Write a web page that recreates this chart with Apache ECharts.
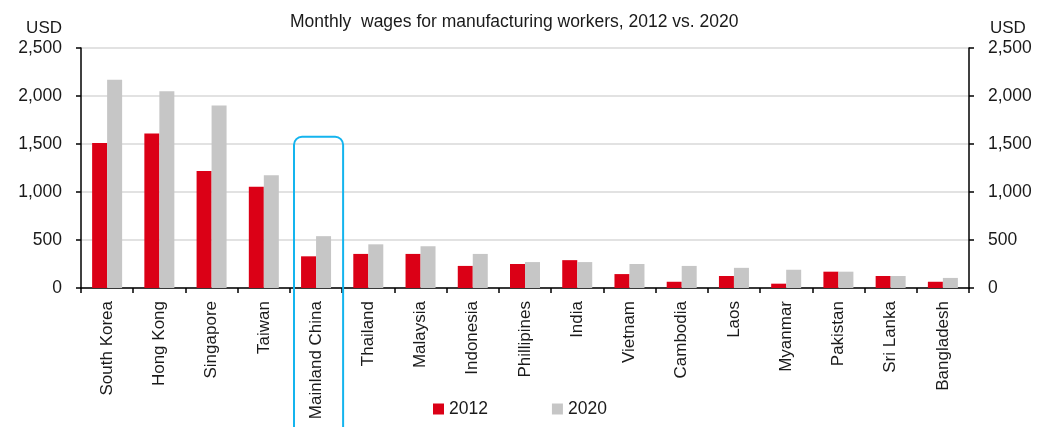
<!DOCTYPE html>
<html>
<head>
<meta charset="utf-8">
<title>Monthly wages for manufacturing workers, 2012 vs. 2020</title>
<script src="https://cdn.jsdelivr.net/npm/echarts@6/dist/echarts.min.js"></script>
<style>
  html, body { margin: 0; padding: 0; background: #ffffff; }
  #chart { width: 1048px; height: 427px; }
</style>
</head>
<body>
<div id="chart"></div>
<script>
// Monthly wages (USD) for manufacturing workers
const countries = [
  'South Korea', 'Hong Kong', 'Singapore', 'Taiwan', 'Mainland China',
  'Thailand', 'Malaysia', 'Indonesia', 'Phillipines', 'India', 'Vietnam',
  'Cambodia', 'Laos', 'Myanmar', 'Pakistan', 'Sri Lanka', 'Bangladesh'
];
const wages2012 = [1510, 1610, 1220, 1055, 330, 355, 355, 230, 250, 290, 145, 65, 125, 45, 170, 125, 65];
const wages2020 = [2170, 2050, 1900, 1175, 540, 455, 435, 355, 270, 270, 250, 230, 210, 190, 170, 125, 105];
const seriesNames = ['2012', '2020'];
const yTicks = [0, 500, 1000, 1500, 2000, 2500];

// Category singled out with a rounded frame, and the wage level where the frame starts
const highlighted = 'Mainland China';
const highlightTop = 1575;

const FONT = '"Liberation Sans", Arial, sans-serif';
const RED = '#db0016';
const GREY = '#c6c6c6';

const chart = echarts.init(document.getElementById('chart'), null, { renderer: 'canvas' });

const fmt = v => v.toLocaleString('en-US');

function valueAxis(position) {
  const isLeft = position === 'left';
  return {
    type: 'value',
    position: position,
    min: yTicks[0],
    max: yTicks[yTicks.length - 1],
    interval: yTicks[1] - yTicks[0],
    name: 'USD',
    nameLocation: 'end',
    nameGap: 11,
    nameTextStyle: {
      fontFamily: FONT, fontSize: 17, color: '#1a1a1a',
      align: isLeft ? 'right' : 'left',
      padding: isLeft ? [0, 19, 0, 0] : [0, 0, 0, 21]
    },
    axisLine: { show: true, lineStyle: { color: '#000000', width: 1.5 } },
    axisTick: { show: true, length: 5, lineStyle: { color: '#000000', width: 1.5 } },
    axisLabel: {
      fontFamily: FONT, fontSize: 17.5, color: '#1a1a1a', margin: 19,
      formatter: fmt
    },
    splitLine: { show: isLeft, lineStyle: { color: '#d9d9d9', width: 1.5 } }
  };
}

const option = {
  backgroundColor: '#ffffff',
  animation: false,
  title: {
    text: 'Monthly  wages for manufacturing workers, 2012 vs. 2020',
    left: 285,
    top: 8,
    textStyle: { fontFamily: FONT, fontSize: 17.5, fontWeight: 'normal', color: '#1a1a1a' }
  },
  legend: {
    data: seriesNames,
    left: 428,
    top: 395,
    icon: 'rect',
    itemWidth: 11,
    itemHeight: 11,
    itemGap: 64,
    textStyle: { fontFamily: FONT, fontSize: 17.5, color: '#1a1a1a' }
  },
  grid: { left: 81, right: 79, top: 48, bottom: 139, containLabel: false },
  xAxis: {
    type: 'category',
    data: countries,
    boundaryGap: true,
    axisLine: { show: true, lineStyle: { color: '#000000', width: 1.5 } },
    axisTick: { show: true, length: 5, alignWithLabel: false, lineStyle: { color: '#000000', width: 1.5 } },
    axisLabel: {
      interval: 0, rotate: 90, fontFamily: FONT, fontSize: 17, color: '#1a1a1a', margin: 13
    },
    splitLine: { show: false }
  },
  yAxis: [valueAxis('left'), valueAxis('right')],
  series: [
    {
      name: seriesNames[0], type: 'bar', data: wages2012, yAxisIndex: 0,
      barWidth: 15, barGap: '0%',
      itemStyle: { color: RED }
    },
    {
      name: seriesNames[1], type: 'bar', data: wages2020, yAxisIndex: 0,
      barWidth: 15, barGap: '0%',
      itemStyle: { color: GREY }
    }
  ]
};

chart.setOption(option);

// Rounded frame around the highlighted category, placed through the chart's own scales
function drawFrame() {
  const cx = chart.convertToPixel({ xAxisIndex: 0 }, highlighted);
  const top = chart.convertToPixel({ yAxisIndex: 0 }, highlightTop);
  const idx = countries.indexOf(highlighted);
  const next = chart.convertToPixel({ xAxisIndex: 0 }, countries[Math.min(idx + 1, countries.length - 1)]);
  const step = Math.abs(next - cx);
  const half = step * 0.47;
  chart.setOption({
    graphic: [{
      type: 'rect',
      id: 'frame',
      shape: { x: cx - half + 2.5, y: top, width: half * 2, height: 427 - top + 10, r: 8 },
      style: { fill: 'none', stroke: '#14b4ee', lineWidth: 2 },
      z: 100
    }]
  });
}
drawFrame();
</script>
</body>
</html>
